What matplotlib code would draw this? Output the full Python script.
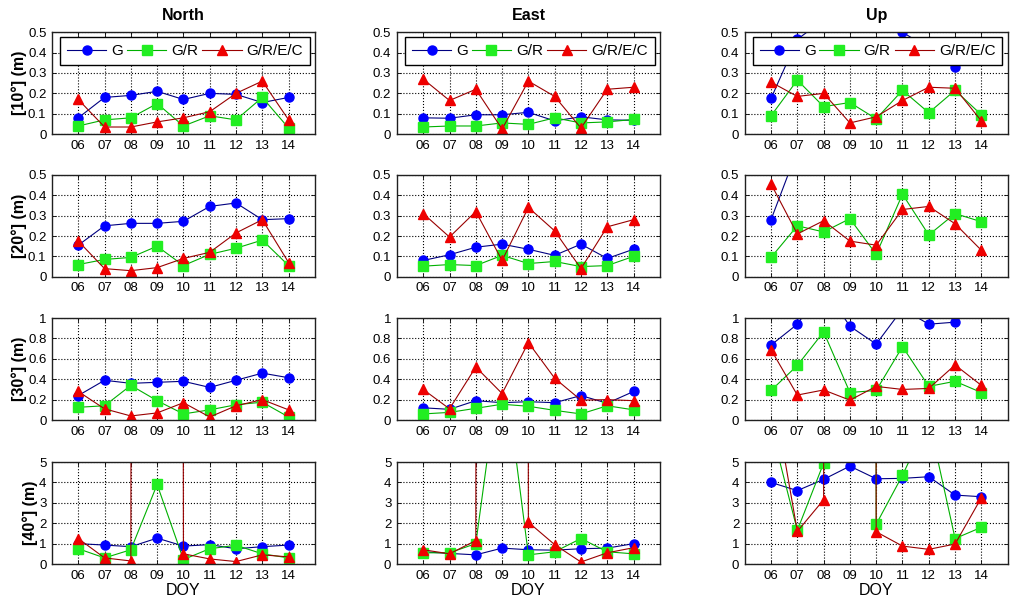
import numpy as np
import matplotlib
matplotlib.use("Agg")
import matplotlib.pyplot as plt

plt.rcParams['font.family'] = ['Liberation Sans', 'DejaVu Sans']

doy = [6, 7, 8, 9, 10, 11, 12, 13, 14]
doy_labels = ['06', '07', '08', '09', '10', '11', '12', '13', '14']
series_names = ['G', 'G/R', 'G/R/E/C']
col_titles = ['North', 'East', 'Up']
row_labels = ['[10°] (m)', '[20°] (m)', '[30°] (m)', '[40°] (m)']
row_ylim = [0.5, 0.5, 1, 5]

# 10 deg cut-off
north_10_g = [0.08, 0.18, 0.19, 0.21, 0.17, 0.20, 0.195, 0.155, 0.18]
north_10_gr = [0.04, 0.07, 0.08, 0.15, 0.04, 0.09, 0.07, 0.18, 0.03]
north_10_grec = [0.17, 0.035, 0.035, 0.06, 0.08, 0.11, 0.20, 0.26, 0.07]
east_10_g = [0.08, 0.078, 0.095, 0.095, 0.107, 0.065, 0.085, 0.07, 0.068]
east_10_gr = [0.035, 0.04, 0.04, 0.055, 0.048, 0.08, 0.055, 0.06, 0.072]
east_10_grec = [0.27, 0.165, 0.22, 0.025, 0.26, 0.185, 0.03, 0.22, 0.23]
up_10_g = [0.175, 0.465, 0.56, 0.58, 0.60, 0.50, 0.42, 0.33, 0.42]
up_10_gr = [0.09, 0.265, 0.135, 0.155, 0.075, 0.215, 0.105, 0.215, 0.095]
up_10_grec = [0.255, 0.185, 0.20, 0.055, 0.085, 0.165, 0.23, 0.225, 0.065]

# 20 deg cut-off
north_20_g = [0.155, 0.25, 0.262, 0.262, 0.272, 0.345, 0.362, 0.28, 0.285]
north_20_gr = [0.06, 0.085, 0.095, 0.15, 0.055, 0.11, 0.14, 0.18, 0.055]
north_20_grec = [0.175, 0.04, 0.03, 0.045, 0.09, 0.12, 0.215, 0.28, 0.07]
east_20_g = [0.08, 0.108, 0.145, 0.16, 0.135, 0.105, 0.16, 0.09, 0.135]
east_20_gr = [0.052, 0.06, 0.055, 0.105, 0.065, 0.075, 0.05, 0.055, 0.10]
east_20_grec = [0.31, 0.195, 0.32, 0.08, 0.34, 0.225, 0.04, 0.245, 0.28]
up_20_g = [0.28, 0.62, 0.75, 0.70, 0.60, 0.80, 0.70, 0.65, 0.75]
up_20_gr = [0.095, 0.25, 0.22, 0.285, 0.11, 0.405, 0.205, 0.31, 0.27]
up_20_grec = [0.455, 0.21, 0.275, 0.175, 0.155, 0.33, 0.345, 0.26, 0.13]

# 30 deg cut-off
north_30_g = [0.24, 0.39, 0.36, 0.37, 0.38, 0.32, 0.39, 0.46, 0.415]
north_30_gr = [0.125, 0.14, 0.34, 0.19, 0.06, 0.10, 0.15, 0.175, 0.03]
north_30_grec = [0.28, 0.11, 0.04, 0.07, 0.17, 0.03, 0.14, 0.20, 0.10]
east_30_g = [0.12, 0.105, 0.19, 0.17, 0.18, 0.17, 0.24, 0.165, 0.28]
east_30_gr = [0.06, 0.075, 0.115, 0.155, 0.135, 0.095, 0.06, 0.14, 0.10]
east_30_grec = [0.30, 0.11, 0.52, 0.26, 0.76, 0.41, 0.195, 0.20, 0.19]
up_30_g = [0.735, 0.94, 1.30, 0.92, 0.745, 1.09, 0.94, 0.96, 1.50]
up_30_gr = [0.29, 0.535, 0.865, 0.27, 0.29, 0.72, 0.33, 0.38, 0.27]
up_30_grec = [0.69, 0.245, 0.295, 0.195, 0.33, 0.30, 0.31, 0.54, 0.34]

# 40 deg cut-off
north_40_g = [1.0, 0.93, 0.85, 1.27, 0.88, 0.95, 0.75, 0.85, 0.93]
north_40_gr = [0.75, 0.30, 0.70, 3.9, 0.22, 0.75, 0.92, 0.50, 0.30]
north_40_grec = [1.25, 0.30, 0.15, 1000.0, 0.50, 0.25, 0.12, 0.45, 0.35]
east_40_g = [0.60, 0.52, 0.45, 0.78, 0.70, 0.68, 0.75, 0.78, 1.0]
east_40_gr = [0.55, 0.55, 1.0, 10.5, 0.45, 0.60, 1.25, 0.60, 0.50]
east_40_grec = [0.70, 0.50, 1.15, 1000.0, 2.05, 0.95, 0.10, 0.55, 0.80]
up_40_g = [4.0, 3.6, 4.15, 4.8, 4.18, 4.2, 4.28, 3.38, 3.3]
up_40_gr = [6.7, 1.65, 4.95, 1000.0, 1.95, 4.35, 7.1, 1.25, 1.8]
up_40_grec = [9.0, 1.6, 3.15, 1000.0, 1.58, 0.88, 0.72, 0.98, 3.25]

panels = [
    [(north_10_g, north_10_gr, north_10_grec), (east_10_g, east_10_gr, east_10_grec), (up_10_g, up_10_gr, up_10_grec)],
    [(north_20_g, north_20_gr, north_20_grec), (east_20_g, east_20_gr, east_20_grec), (up_20_g, up_20_gr, up_20_grec)],
    [(north_30_g, north_30_gr, north_30_grec), (east_30_g, east_30_gr, east_30_grec), (up_30_g, up_30_gr, up_30_grec)],
    [(north_40_g, north_40_gr, north_40_grec), (east_40_g, east_40_gr, east_40_grec), (up_40_g, up_40_gr, up_40_grec)],
]

# line colour, marker, marker colour
styles = [('#000080', 'o', '#0000ff'),
          ('#00b000', 's', '#22ee22'),
          ('#990000', '^', '#ee0000')]

fig = plt.figure(figsize=(10.23, 6.07), dpi=100)
lefts = [0.0508, 0.388, 0.728]
bottoms = [0.779, 0.544, 0.308, 0.0708]
w, h = 0.257, 0.168

for r in range(4):
    for c in range(3):
        ax = fig.add_axes([lefts[c], bottoms[r], w, h])
        for vals, name, (lc, mk, mc) in zip(panels[r][c], series_names, styles):
            ax.plot(doy, vals, color=lc, lw=0.8, marker=mk, ms=6.5,
                    mfc=mc, mec=mc, label=name)
        top = row_ylim[r]
        ax.set_xlim(5, 15)
        ax.set_ylim(0, top)
        ax.set_xticks(doy)
        ax.set_xticklabels(doy_labels)
        if top == 0.5:
            ax.set_yticks(np.arange(0, 0.51, 0.1))
            ax.set_yticklabels(['0', '0.1', '0.2', '0.3', '0.4', '0.5'])
        elif top == 1:
            ax.set_yticks(np.arange(0, 1.01, 0.2))
            ax.set_yticklabels(['0', '0.2', '0.4', '0.6', '0.8', '1'])
        else:
            ax.set_yticks(range(6))
        ax.grid(True, color='black', ls=':', lw=0.8)
        ax.tick_params(direction='in', length=3, labelsize=9.5, width=0.6,
                       top=True, right=True, pad=4)
        for s in ax.spines.values():
            s.set_linewidth(1.0)
            s.set_color('#202020')
        if r == 0:
            ax.set_title(col_titles[c], fontsize=11.5, fontweight='bold', pad=9)
            leg = ax.legend(ncol=3, loc='upper left', bbox_to_anchor=(0.03, 0.95, 0.95, 0.0),
                            mode='expand', fontsize=11, frameon=True, fancybox=False,
                            edgecolor='black', framealpha=1, handlelength=2.6,
                            borderpad=0.45, columnspacing=0.6, handletextpad=0.3,
                            borderaxespad=0)
            leg.get_frame().set_linewidth(1.0)
        if c == 0:
            ax.set_ylabel(row_labels[r], fontsize=11.5, fontweight='bold', labelpad=1)
        if r == 3:
            ax.set_xlabel('DOY', fontsize=11.5, labelpad=1)

fig.savefig('out.png', dpi=100, facecolor='white')
